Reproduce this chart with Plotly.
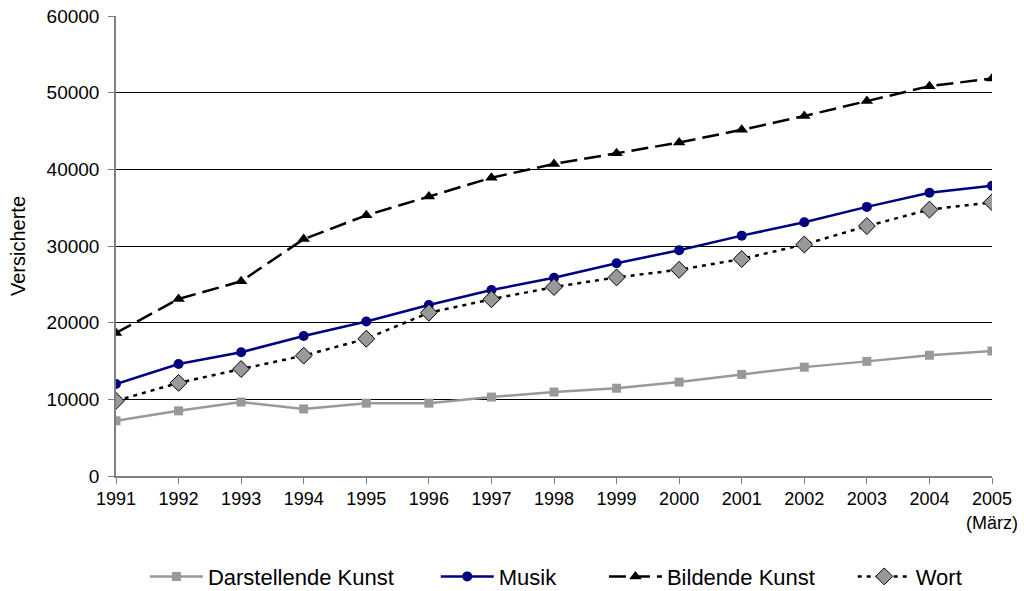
import plotly.graph_objects as go

years = [1991, 1992, 1993, 1994, 1995, 1996, 1997, 1998, 1999, 2000, 2001, 2002, 2003, 2004, 2005]
tick_labels = ["1991", "1992", "1993", "1994", "1995", "1996", "1997", "1998", "1999", "2000",
               "2001", "2002", "2003", "2004", "2005<br>(März)"]
y_ticks = [0, 10000, 20000, 30000, 40000, 50000, 60000]

darstellende = [7200, 8500, 9650, 8750, 9500, 9500, 10300, 10950, 11450, 12250, 13250, 14200, 14950, 15750, 16300]
musik = [12000, 14600, 16150, 18250, 20150, 22300, 24250, 25850, 27750, 29450, 31350, 33100, 35100, 36950, 37850]
bildende = [18650, 23100, 25400, 30900, 34000, 36450, 38900, 40700, 42100, 43500, 45150, 46950, 48900, 50850, 51850]
wort = [9800, 12150, 13950, 15700, 17900, 21300, 23050, 24650, 25900, 26900, 28300, 30200, 32600, 34750, 35700]

font = "Liberation Sans, Arial, sans-serif"

fig = go.Figure()
fig.add_trace(go.Scatter(x=years, y=darstellende, name="Darstellende Kunst", mode="lines+markers",
                         legend="legend",
                         line=dict(color="#999999", width=2.5),
                         marker=dict(symbol="square", size=9, color="#999999")))
fig.add_trace(go.Scatter(x=years, y=musik, name="Musik", mode="lines+markers",
                         legend="legend2",
                         line=dict(color="#000080", width=2.5),
                         marker=dict(symbol="circle", size=10, color="#000080")))
fig.add_trace(go.Scatter(x=years, y=bildende, name="Bildende Kunst", mode="lines+markers",
                         legend="legend3",
                         line=dict(color="#000000", width=2.5, dash="17px,7px"),
                         marker=dict(symbol="triangle-up", size=11, color="#000000")))
fig.add_trace(go.Scatter(x=years, y=wort, name="Wort", mode="lines+markers",
                         legend="legend4",
                         line=dict(color="#000000", width=2.5, dash="4px,5px"),
                         marker=dict(symbol="diamond", size=13, color="#999999",
                                     line=dict(color="#000000", width=1))))

leg_common = dict(orientation="h", xanchor="left", y=-0.173, yanchor="top",
                  font=dict(size=22, family=font, color="black"), itemwidth=53,
                  bgcolor="rgba(0,0,0,0)")

fig.update_layout(
    width=1024, height=591,
    margin=dict(l=116, r=32, t=16, b=115, autoexpand=False),
    paper_bgcolor="white", plot_bgcolor="white",
    font=dict(family=font, size=18, color="black"),
    showlegend=True,
    legend=dict(x=0.033, **leg_common),
    legend2=dict(x=0.365, **leg_common),
    legend3=dict(x=0.557, **leg_common),
    legend4=dict(x=0.841, **leg_common),
    xaxis=dict(range=[1991, 2005], tickvals=years, ticktext=tick_labels,
               showgrid=False, showline=True, linecolor="#808080", linewidth=1.5,
               ticks="outside", ticklen=6, tickcolor="#808080", zeroline=False,
               automargin=False, tickfont=dict(size=18)),
    yaxis=dict(range=[0, 60000], tickvals=y_ticks,
               tickformat="d", showgrid=True, gridcolor="#000000", gridwidth=1,
               showline=True, linecolor="#808080", linewidth=1.5,
               ticks="outside", ticklen=6, tickcolor="#808080", zeroline=False,
               automargin=False, ticklabelstandoff=5,
               title=dict(text="Versicherte", font=dict(size=20), standoff=16),
               tickfont=dict(size=19)),
)

fig.write_html("out.html", config={"displayModeBar": False},
               post_script="document.body.style.margin='0';")
